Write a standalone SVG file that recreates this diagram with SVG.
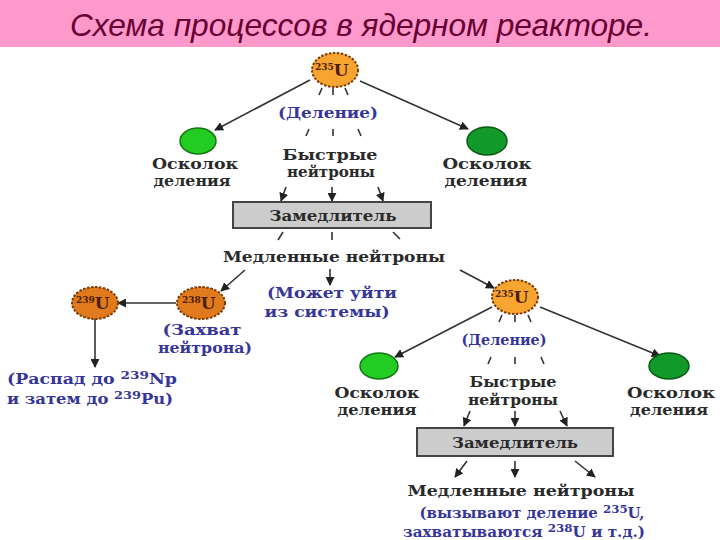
<svg xmlns="http://www.w3.org/2000/svg" width="720" height="540" viewBox="0 0 720 540">
<defs>
<marker id="ah" viewBox="0 0 10 10" refX="9" refY="5" markerWidth="9" markerHeight="9" markerUnits="userSpaceOnUse" orient="auto"><path d="M0,0 L10,5 L0,10 z" fill="#222"/></marker>
</defs>
<style>
.t{font-family:"DejaVu Serif","Liberation Serif",serif;font-weight:bold;font-size:14px;fill:#2a2a2a}
.b{font-family:"DejaVu Serif","Liberation Serif",serif;font-weight:bold;font-size:14px;fill:#35359a}
.m{text-anchor:middle}
.u235{fill:#f7a530;stroke:#7a3a00;stroke-width:2;stroke-dasharray:2.5 1.5}
.u238{fill:#e07a1c;stroke:#7a3a00;stroke-width:2;stroke-dasharray:2.5 1.5}
.ut{font-family:"DejaVu Serif","Liberation Serif",serif;font-weight:bold;fill:#4a1e00}
.g1{fill:#22cc22;stroke:#117711;stroke-width:1.5}
.g2{fill:#119a2a;stroke:#0a5a14;stroke-width:1.5}
.box{fill:#cccccc;stroke:#444;stroke-width:2}
.a{stroke:#333;stroke-width:1.6;fill:none;marker-end:url(#ah)}
.tk{stroke:#333;stroke-width:1.6;fill:none}
</style>
<rect width="720" height="540" fill="#ffffff"/>
<g id="title">
<rect x="0" y="0" width="720" height="47" fill="#ff99cc"/>
<text x="361" y="36" font-family="Liberation Sans,Arial,sans-serif" font-style="italic" font-size="32" fill="#660033" text-anchor="middle" textLength="582" lengthAdjust="spacingAndGlyphs">Схема процессов в ядерном реакторе.</text>
</g>
<g id="connectors">
<line class="a" x1="310" y1="80" x2="215" y2="130"/>
<line class="a" x1="360" y1="81" x2="468" y2="129"/>
<path class="tk" d="M322,88 L319,95 M333,88 L333,95 M345,88 L348,95"/>
<path class="tk" d="M309,129 L306,136 M333,129 L333,136 M358,129 L361,136"/>
<line class="a" x1="286" y1="187" x2="281" y2="201"/>
<line class="a" x1="332" y1="187" x2="332" y2="201"/>
<line class="a" x1="378" y1="187" x2="383" y2="201"/>
<path class="tk" d="M283,232 L278,240 M332,232 L332,240 M393,232 L400,239"/>
<line class="a" x1="245" y1="270" x2="221" y2="291"/>
<line class="a" x1="330" y1="269" x2="330" y2="285"/>
<line class="a" x1="460" y1="270" x2="494" y2="288"/>
<line class="a" x1="176" y1="303" x2="118" y2="303"/>
<line class="a" x1="95" y1="319" x2="95" y2="367"/>
<path class="tk" d="M502,315 L499,322 M515,315 L515,322 M528,315 L531,322"/>
<line class="a" x1="492" y1="307" x2="395" y2="357"/>
<line class="a" x1="540" y1="307" x2="660" y2="356"/>
<path class="tk" d="M491,357 L488,364 M515,357 L515,364 M541,357 L544,364"/>
<line class="a" x1="470" y1="411" x2="464" y2="426"/>
<line class="a" x1="515" y1="411" x2="515" y2="426"/>
<line class="a" x1="560" y1="411" x2="567" y2="426"/>
<line class="a" x1="467" y1="461" x2="455" y2="477"/>
<line class="a" x1="515" y1="461" x2="515" y2="477"/>
<line class="a" x1="575" y1="461" x2="595" y2="477"/>
</g>
<g id="u235-top">
<ellipse class="u235" cx="335" cy="70" rx="23" ry="17"/>
<text class="ut" x="315" y="76"><tspan font-size="9" dy="-6">235</tspan><tspan font-size="17" dy="6">U</tspan></text>
</g>
<text id="fission-top" class="b m" x="328" y="118" textLength="100" lengthAdjust="spacingAndGlyphs">(Деление)</text>
<g id="frag-top-left">
<ellipse class="g1" cx="198" cy="141" rx="18" ry="13"/>
<text class="t m" x="195" y="169" textLength="86" lengthAdjust="spacingAndGlyphs">Осколок</text>
<text class="t m" x="192" y="186" textLength="77" lengthAdjust="spacingAndGlyphs">деления</text>
</g>
<g id="frag-top-right">
<ellipse class="g2" cx="487" cy="141" rx="20" ry="14"/>
<text class="t m" x="487" y="169" textLength="89" lengthAdjust="spacingAndGlyphs">Осколок</text>
<text class="t m" x="486" y="186" textLength="83" lengthAdjust="spacingAndGlyphs">деления</text>
</g>
<g id="fast-top">
<text class="t m" x="330" y="160" textLength="95" lengthAdjust="spacingAndGlyphs">Быстрые</text>
<text class="t m" x="331" y="177" textLength="88" lengthAdjust="spacingAndGlyphs">нейтроны</text>
</g>
<g id="moderator-top">
<rect class="box" x="233" y="202" width="198" height="26"/>
<text class="t m" x="333" y="221" textLength="127" lengthAdjust="spacingAndGlyphs">Замедлитель</text>
</g>
<text id="slow-top" class="t m" x="334" y="262" textLength="222" lengthAdjust="spacingAndGlyphs">Медленные нейтроны</text>
<g id="u238">
<ellipse class="u238" cx="201" cy="303" rx="24" ry="16"/>
<text class="ut" x="182" y="309"><tspan font-size="9" dy="-6">238</tspan><tspan font-size="17" dy="6">U</tspan></text>
</g>
<g id="capture">
<text class="b m" x="202" y="335" textLength="79" lengthAdjust="spacingAndGlyphs">(Захват</text>
<text class="b m" x="205" y="353" textLength="94" lengthAdjust="spacingAndGlyphs">нейтрона)</text>
</g>
<g id="u239">
<ellipse class="u238" cx="95" cy="303" rx="23" ry="16"/>
<text class="ut" x="76" y="309"><tspan font-size="9" dy="-6">239</tspan><tspan font-size="17" dy="6">U</tspan></text>
</g>
<g id="decay">
<text class="b" x="7" y="384" textLength="170" lengthAdjust="spacingAndGlyphs">(Распад до <tspan font-size="11" dy="-5">239</tspan><tspan dy="5">Np</tspan></text>
<text class="b" x="7" y="404" textLength="166" lengthAdjust="spacingAndGlyphs">и затем до <tspan font-size="11" dy="-5">239</tspan><tspan dy="5">Pu)</tspan></text>
</g>
<g id="escape">
<text class="b m" x="332" y="298" textLength="130" lengthAdjust="spacingAndGlyphs">(Может уйти</text>
<text class="b m" x="327" y="317" textLength="125" lengthAdjust="spacingAndGlyphs">из системы)</text>
</g>
<g id="u235-bottom">
<ellipse class="u235" cx="515" cy="297" rx="23" ry="17"/>
<text class="ut" x="495" y="303"><tspan font-size="9" dy="-6">235</tspan><tspan font-size="17" dy="6">U</tspan></text>
</g>
<text id="fission-bottom" class="b m" x="504" y="345" textLength="85" lengthAdjust="spacingAndGlyphs">(Деление)</text>
<g id="frag-bottom-left">
<ellipse class="g1" cx="379" cy="366" rx="19" ry="13"/>
<text class="t m" x="377" y="398" textLength="85" lengthAdjust="spacingAndGlyphs">Осколок</text>
<text class="t m" x="377" y="415" textLength="79" lengthAdjust="spacingAndGlyphs">деления</text>
</g>
<g id="frag-bottom-right">
<ellipse class="g2" cx="669" cy="366" rx="20" ry="13"/>
<text class="t m" x="671" y="398" textLength="88" lengthAdjust="spacingAndGlyphs">Осколок</text>
<text class="t m" x="669" y="415" textLength="78" lengthAdjust="spacingAndGlyphs">деления</text>
</g>
<g id="fast-bottom">
<text class="t m" x="513" y="387" textLength="87" lengthAdjust="spacingAndGlyphs">Быстрые</text>
<text class="t m" x="513" y="405" textLength="90" lengthAdjust="spacingAndGlyphs">нейтроны</text>
</g>
<g id="moderator-bottom">
<rect class="box" x="417" y="428" width="196" height="28"/>
<text class="t m" x="515" y="448" textLength="126" lengthAdjust="spacingAndGlyphs">Замедлитель</text>
</g>
<g id="slow-bottom">
<text class="t m" x="521" y="496" textLength="227" lengthAdjust="spacingAndGlyphs">Медленные нейтроны</text>
<text class="b m" x="532" y="518" textLength="225" lengthAdjust="spacingAndGlyphs">(вызывают деление <tspan font-size="11" dy="-5">235</tspan><tspan dy="5">U,</tspan></text>
<text class="b m" x="524" y="537" textLength="242" lengthAdjust="spacingAndGlyphs">захватываются <tspan font-size="11" dy="-5">238</tspan><tspan dy="5">U и т.д.)</tspan></text>
</g>
</svg>
